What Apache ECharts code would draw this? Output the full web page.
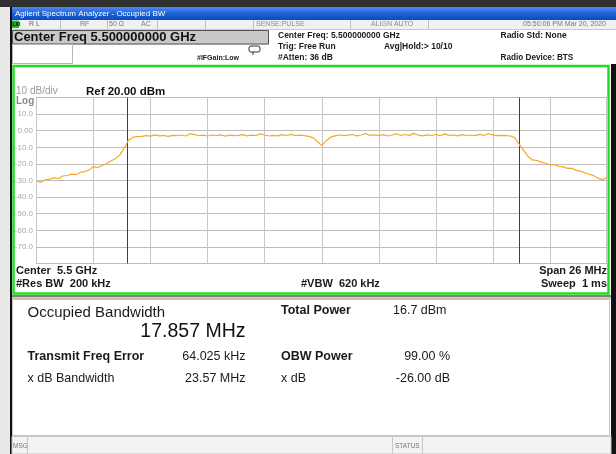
<!DOCTYPE html>
<html><head><meta charset="utf-8">
<script src="https://cdn.jsdelivr.net/npm/echarts@6/dist/echarts.min.js"></script>
<style>html,body{margin:0;padding:0;background:#fff}#c{width:616px;height:454px}</style>
</head><body><div id="c"></div><script>
// Sweep: center 5.5 GHz, span 26 MHz, frequencies as offset from center (MHz)
const freqStartMHz = -13;
const freqStepMHz = 0.2;
// Trace levels (dBm), one per sweep point
const traceLeftSkirt = [-30.6,-31.0,-29.6,-29.2,-28.4,-28.8,-27.3,-27.0,-26.2,-26.5,-25.0,-24.6,-23.6,-21.6,-22.2,-21.0,-19.8,-18.3,-16.8,-14.6,-10.4,-5.6,-3.9];
const traceInBand = [
 -3.6,-3.4,-3.0,-3.3,-2.5,-3.1,-2.9,-3.4,-2.8,-3.0,
 -2.6,-3.2,-1.8,-2.4,-2.9,-2.7,-3.2,-2.6,-2.9,-2.5,
 -3.3,-2.7,-3.0,-2.8,-2.4,-3.1,-2.7,-2.9,-1.9,-2.6,
 -3.2,-2.8,-3.1,-2.4,-2.9,-2.2,-3.0,-2.7,-3.0,-3.4,
 -4.2,-6.5,-9.0,-6.0,-3.9,-3.1,-2.6,-3.0,-2.7,-2.3,
 -3.1,-2.6,-1.7,-2.8,-2.5,-3.0,-2.4,-3.2,-2.6,-1.8,
 -2.9,-2.3,-2.8,-1.6,-2.7,-3.1,-2.5,-2.9,-2.3,-3.0,
 -1.9,-2.8,-2.6,-3.1,-2.4,-2.9,-2.6,-3.0,-2.2,-2.9,
 -1.7,-2.7,-3.0,-2.8,-3.0];
const traceRightSkirt = [-3.2,-4.2,-8.3,-11.8,-15.5,-17.6,-17.9,-18.9,-19.6,-20.6,-20.4,-21.5,-21.8,-22.7,-22.6,-23.9,-24.5,-25.3,-26.3,-27.1,-28.6,-29.6,-28.0];
// OBW marker edges (MHz offset from center)
const obwEdges = [-8.865, 8.993];
// Axis scale
const refLevel = 20, dbPerDiv = 10, divisions = 10;
const spanMHz = 26;

const trace = traceLeftSkirt.concat(traceInBand, traceRightSkirt);
const traceData = trace.map((v, i) => [Math.round((freqStartMHz + i * freqStepMHz) * 100) / 100, v]);

const FF = "'Liberation Sans', Arial, Helvetica, sans-serif";
function T(text, x, y, size, opts) {
  opts = opts || {};
  return { type: 'text', z: 20, silent: true,
    style: { text: text, x: x, y: y, fill: opts.fill || '#1a1a1a',
      font: (opts.bold ? 'bold ' : '') + size + 'px ' + FF,
      textAlign: opts.align || 'left', textVerticalAlign: 'middle', verticalAlign: 'middle' } };
}
function R(x, y, w, h, fill, stroke, lw, z) {
  return { type: 'rect', z: z === undefined ? -5 : z, silent: true,
    shape: { x: x, y: y, width: w, height: h },
    style: { fill: fill || 'none', stroke: stroke || null, lineWidth: lw || 1 } };
}
function L(x1, y1, x2, y2, color, lw, z) {
  return { type: 'line', z: z === undefined ? -4 : z, silent: true,
    shape: { x1: x1, y1: y1, x2: x2, y2: y2 }, style: { stroke: color, lineWidth: lw || 1 } };
}

const graphics = [
  R(0, 0, 616, 454, '#ffffff', null, 1, -10),
  R(0, 0, 11, 454, '#e9e9e9', null, 1, -9),
  R(0, 0, 616, 7, '#2f2f2f', null, 1, -9),
  R(10, 7, 2, 447, '#111111', null, 1, -8),
  R(611, 64, 5, 390, '#111111', null, 1, -8),
  { type: 'rect', z: -8, silent: true, shape: { x: 12, y: 7, width: 604, height: 13 },
    style: { fill: new echarts.graphic.LinearGradient(0, 0, 0, 1, [
      { offset: 0, color: '#4a8cf0' }, { offset: 0.5, color: '#1f62d8' }, { offset: 1, color: '#0c48bf' }]) } },
  T('Agilent Spectrum Analyzer - Occupied BW', 15, 13.5, 8, { fill: '#ffffff' }),
  // status row
  R(12, 20, 604, 9, '#f1f1f1', null, 1, -8),
  L(12, 29.5, 616, 29.5, '#c8c8c8', 1),
  R(12, 20.5, 7, 7.5, '#2fb52f', null, 1, -3),
  T('LXI', 12.5, 24.5, 5, { fill: '#000', bold: true }),
  L(60.5, 20, 60.5, 29, '#c0c0c0'), L(107.5, 20, 107.5, 29, '#c0c0c0'),
  L(157.5, 20, 157.5, 29, '#c0c0c0'), L(205.5, 20, 205.5, 29, '#c0c0c0'),
  L(253.5, 20, 253.5, 29, '#c0c0c0'), L(350.5, 20, 350.5, 29, '#c0c0c0'),
  L(428.5, 20, 428.5, 29, '#c0c0c0'),
  T('R L', 29, 24.5, 7, { fill: '#666' }),
  T('RF', 80, 24.5, 7, { fill: '#777' }),
  T('50 Ω', 109, 24.5, 7, { fill: '#777' }),
  T('AC', 141, 24.5, 7, { fill: '#777' }),
  T('SENSE:PULSE', 256, 24.5, 7, { fill: '#888' }),
  T('ALIGN AUTO', 371, 24.5, 7, { fill: '#888' }),
  T('05:50:06 PM Mar 20, 2020', 606, 24.5, 7, { fill: '#777', align: 'right' }),
  // center freq box
  R(12.5, 30.5, 256, 13.5, '#c9c9c9', '#555555', 1, -3),
  T('Center Freq 5.500000000 GHz', 14, 37.8, 13, { bold: true, fill: '#111' }),
  R(12.5, 44.5, 60, 19, '#ffffff', '#b5b5b5', 1, -3),
  L(72.5, 44, 269, 44, '#d0d0d0', 1),
  T('#IFGain:Low', 197, 58.5, 7, { bold: true, fill: '#222' }),
  { type: 'rect', z: -2, silent: true, shape: { x: 249, y: 46, width: 11, height: 6, r: 2 },
    style: { fill: '#fff', stroke: '#333', lineWidth: 1 } },
  L(253, 52, 253, 55, '#333', 1, -2),
  T('Center Freq: 5.500000000 GHz', 278, 36, 8.5, { bold: true }),
  T('Trig: Free Run', 278, 46.7, 8.5, { bold: true }),
  T('#Atten: 36 dB', 278, 58, 8.5, { bold: true }),
  T('Avg|Hold:> 10/10', 384, 46.7, 8.5, { bold: true }),
  T('Radio Std: None', 500.5, 36, 8.5, { bold: true }),
  T('Radio Device: BTS', 500.5, 58, 8.2, { bold: true }),
  // green measurement frame
  R(13.5, 66, 595, 227.5, '#ffffff', '#22dd22', 2.5, -6),
  T('10 dB/div', 16, 91.7, 10, { fill: '#9a9a9a' }),
  T('Ref 20.00 dBm', 86, 91.7, 11.5, { bold: true, fill: '#111' }),
  T('Log', 16, 101.7, 10, { bold: true, fill: '#8a8a8a' }),
  T('Center  5.5 GHz', 16, 271, 11, { bold: true }),
  T('#Res BW  200 kHz', 16, 284.3, 11, { bold: true }),
  T('#VBW  620 kHz', 301, 284.3, 11, { bold: true }),
  T('Span 26 MHz', 607, 271, 11, { bold: true, align: 'right' }),
  T('Sweep  1 ms', 607, 284.3, 11, { bold: true, align: 'right' }),
  // result panel
  L(12, 296, 611, 296, '#5a5a5a', 1.5, -6),
  L(12, 298.3, 611, 298.3, '#c9c0a3', 2, -6),
  R(12.5, 299.5, 597, 136, '#ffffff', '#c4c4c4', 1, -6),
  T('Occupied Bandwidth', 27.5, 312.5, 15, { fill: '#1a1a1a' }),
  T('17.857 MHz', 245.5, 332, 19.5, { fill: '#111', align: 'right' }),
  T('Total Power', 281, 310.5, 12.5, { bold: true }),
  T('16.7 dBm', 393, 310.5, 12.5, {}),
  T('Transmit Freq Error', 27.5, 357, 12.5, { bold: true }),
  T('64.025 kHz', 245.5, 357, 12.5, { align: 'right' }),
  T('OBW Power', 281, 357, 12.5, { bold: true }),
  T('99.00 %', 450, 357, 12.5, { align: 'right' }),
  T('x dB Bandwidth', 27.5, 378.5, 12.5, {}),
  T('23.57 MHz', 245.5, 378.5, 12.5, { align: 'right' }),
  T('x dB', 281, 378.5, 12.5, {}),
  T('-26.00 dB', 450, 378.5, 12.5, { align: 'right' }),
  // bottom bar
  R(12, 436.5, 599, 17.5, '#f3f3f3', '#c8c8c8', 1, -6),
  L(27.5, 437, 27.5, 454, '#c8c8c8', 1, -5),
  L(392.5, 437, 392.5, 454, '#c8c8c8', 1, -5),
  L(422.5, 437, 422.5, 454, '#c8c8c8', 1, -5),
  T('MSG', 13, 446, 6.5, { fill: '#777' }),
  T('STATUS', 395, 446, 6.5, { fill: '#777' })
];

const chart = echarts.init(document.getElementById('c'), null, { renderer: 'canvas' });
chart.setOption({
  animation: false,
  backgroundColor: 'transparent',
  graphic: { elements: graphics },
  grid: { left: 36.5, top: 97.5, width: 570.5, height: 166, show: true,
    backgroundColor: '#ffffff', borderColor: '#8a8a8a', borderWidth: 1, z: 0 },
  xAxis: { type: 'value', min: -spanMHz / 2, max: spanMHz / 2, interval: spanMHz / divisions,
    axisLabel: { show: false }, axisTick: { show: false }, axisLine: { show: false },
    splitLine: { show: true, lineStyle: { color: '#c6c6c6', width: 1 } } },
  yAxis: { type: 'value', min: refLevel - dbPerDiv * divisions, max: refLevel, interval: dbPerDiv,
    axisTick: { show: false }, axisLine: { show: false },
    splitLine: { show: true, lineStyle: { color: '#bdbdbd', width: 1 } },
    axisLabel: { margin: 3.5, color: '#a9a9a9', fontSize: 8, fontFamily: FF,
      formatter: function (v) { if (v === refLevel || v === refLevel - dbPerDiv * divisions) return '';
        return v === 0 ? '0.00' : v.toFixed(1); } } },
  series: [{
    type: 'line', data: traceData, showSymbol: false, symbol: 'none', smooth: false,
    lineStyle: { color: '#f7a82a', width: 1.2 }, z: 5,
    markLine: { silent: true, symbol: 'none', animation: false,
      label: { show: false }, lineStyle: { color: '#404040', width: 1, type: 'solid' },
      data: obwEdges.map(f => ({ xAxis: f })) }
  }]
});
</script></body></html>
